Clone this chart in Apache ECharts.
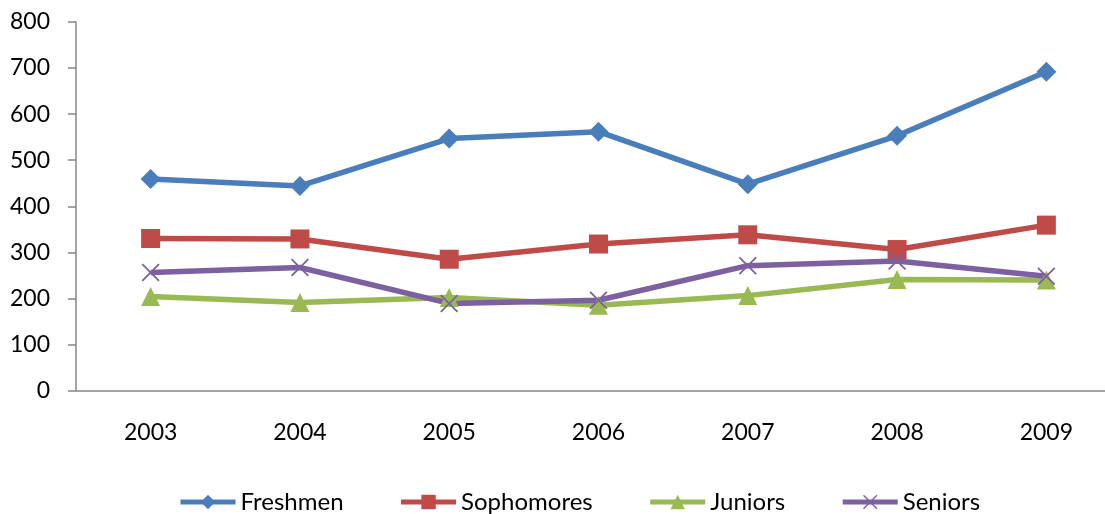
<!DOCTYPE html>
<html>
<head>
<meta charset="utf-8">
<script src="https://cdn.jsdelivr.net/npm/echarts@6/dist/echarts.min.js"></script>
<style>
html,body{margin:0;padding:0;background:#fff;}
#chart{width:1105px;height:514px;}
</style>
</head>
<body>
<div id="chart"></div>
<script>
const years = ['2003','2004','2005','2006','2007','2008','2009'];
const freshmen   = [459, 444, 547, 562, 448, 553, 692];
const sophomores = [330, 329, 285, 318, 338, 306, 359];
const juniors    = [204, 191, 202, 185, 206, 241, 240];
const seniors    = [256, 267, 189, 196, 271, 281, 248];
const yTicks = [0, 100, 200, 300, 400, 500, 600, 700, 800];

const FONT = 'Lato, "Open Sans", "Liberation Sans", sans-serif';
const xPath = 'path://M0,1.4 L1.4,0 L10,8.6 L18.6,0 L20,1.4 L11.4,10 L20,18.6 L18.6,20 L10,11.4 L1.4,20 L0,18.6 L8.6,10 Z';

function mk(name, data, color, symbol, size) {
  return {
    name: name, type: 'line', data: data,
    symbol: symbol, symbolSize: size,
    lineStyle: {color: color, width: 5.5},
    itemStyle: {color: color},
    emphasis: {disabled: true},
    z: 2
  };
}

const chart = echarts.init(document.getElementById('chart'), null, {renderer: 'canvas'});
chart.setOption({
  animation: false,
  backgroundColor: '#fff',
  textStyle: {fontFamily: FONT},
  grid: {left: 76, top: 22, right: -16, bottom: 123.5, containLabel: false, outerBoundsMode: 'none'},
  legend: {
    top: 485, left: 173,
    itemWidth: 55, itemHeight: 18, itemGap: 55,
    lineStyle: {width: 5},
    textStyle: {fontSize: 24, color: '#000', fontFamily: FONT},
    data: ['Freshmen','Sophomores','Juniors','Seniors']
  },
  xAxis: {
    type: 'category', data: years, boundaryGap: true,
    axisLine: {lineStyle: {color: '#868686', width: 1.5}},
    axisTick: {show: false},
    axisLabel: {fontSize: 23, color: '#000', margin: 31, fontFamily: FONT},
    splitLine: {show: false}
  },
  yAxis: {
    type: 'value', min: yTicks[0], max: yTicks[yTicks.length-1], interval: 100,
    axisLine: {show: true, lineStyle: {color: '#868686', width: 1.5}},
    axisTick: {show: true, length: 8, lineStyle: {color: '#868686', width: 1.5}},
    axisLabel: {fontSize: 23, color: '#000', margin: 26, fontFamily: FONT},
    splitLine: {show: false}
  },
  series: [
    mk('Freshmen', freshmen, '#4A7EBB', 'diamond', 20),
    mk('Sophomores', sophomores, '#BE4B48', 'rect', 19),
    mk('Juniors', juniors, '#98B954', 'triangle', 19),
    mk('Seniors', seniors, '#7D60A0', xPath, 18)
  ]
});
</script>
</body>
</html>
